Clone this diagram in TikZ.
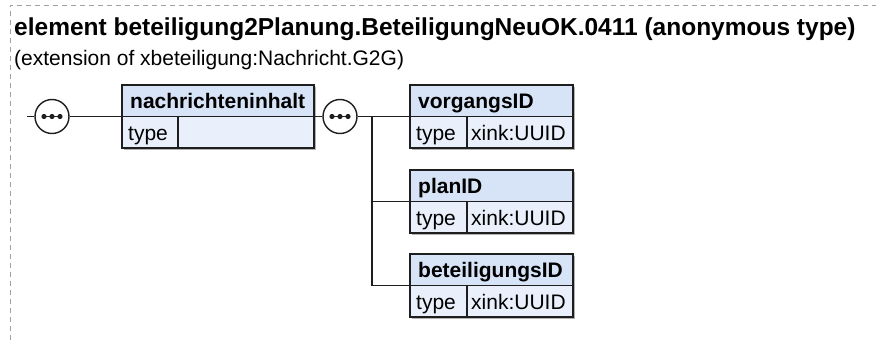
\documentclass[tikz,border=0pt]{standalone}
\usepackage{fontspec}
\setmainfont{Liberation Sans}
\usetikzlibrary{calc}
\definecolor{hdrfill}{RGB}{215,227,247}
\definecolor{rowfill}{RGB}{234,240,251}
\definecolor{edge}{RGB}{30,30,30}
\definecolor{frame}{RGB}{160,160,160}
\tikzset{
  x=1pt, y=-1pt,
  conn/.style={draw=edge, line width=1.4pt},
  seqcirc/.style={circle, draw=edge, line width=1.4pt, fill=white, minimum size=34pt, inner sep=0pt},
  hdrbox/.style={draw=edge, line width=1.4pt, fill=hdrfill},
  rowbox/.style={draw=edge, line width=1.4pt, fill=rowfill},
  shadowbox/.style={fill=black!30, draw=none},
  nametext/.style={anchor=base west, inner sep=0pt, font=\fontsize{21}{24}\selectfont\bfseries},
  celltext/.style={anchor=base west, inner sep=0pt, font=\fontsize{21}{24}\selectfont},
}
\newcommand{\elembox}[7]{%
  \fill[shadowbox] (#2+2,#3+2) rectangle (#4+2,#3+65);
  \draw[hdrbox] (#2,#3) rectangle (#4,#3+31.5);
  \draw[rowbox] (#2,#3+31.5) rectangle (#4,#3+63);
  \draw[edge, line width=1.4pt] (#5,#3+31.5) -- (#5,#3+63);
  \coordinate (#1-w) at (#2,#3+31.5);
  \coordinate (#1-e) at (#4,#3+31.5);
  \node[nametext] (#1-name) at (#2+8,#3+23.5) {#6};
  \node[celltext] (#1-type) at (#2+6,#3+55) {type};
  \node[celltext] (#1-val) at (#5+4,#3+55) {#7};
}
\newcommand{\seqdots}[1]{%
  \draw[edge, line width=1.4pt] ($(#1)+(-8,0)$) -- ($(#1)+(8,0)$);
  \fill[edge] ($(#1)+(-8,0)$) circle (2.6);
  \fill[edge] (#1) circle (2.6);
  \fill[edge] ($(#1)+(8,0)$) circle (2.6);
}
\begin{document}
\begin{tikzpicture}
\useasboundingbox (0,0) rectangle (876,340);
\fill[white] (0,0) rectangle (876,340);
% frame
\draw[frame, line width=1pt, dash pattern=on 5pt off 4pt] (10,340) -- (10,5) -- (876,5);
% title
\node[anchor=base west, inner sep=0pt, font=\fontsize{24.5}{28}\selectfont\bfseries] (title) at (14,35) {element beteiligung2Planung.BeteiligungNeuOK.0411 (anonymous type)};
\node[anchor=base west, inner sep=0pt, font=\fontsize{21}{24}\selectfont] (subtitle) at (14,65) {(extension of xbeteiligung:Nachricht.G2G)};
% boxes
\elembox{nach}{122}{85}{314}{178}{nachrichteninhalt}{}
\elembox{vorg}{410}{85}{573}{467}{vorgangsID}{xink:UUID}
\elembox{plan}{410}{170}{573}{467}{planID}{xink:UUID}
\elembox{bete}{410}{254}{573}{467}{beteiligungsID}{xink:UUID}
% connectors
\coordinate (start) at (27,116.5);
\node[seqcirc] (seq1) at (52,116.5) {};
\node[seqcirc] (seq2) at (340,116.5) {};
\coordinate (fork) at (372,116.5);
\draw[conn] (start) -- (seq1.west);
\draw[conn] (seq1.east) -- (nach-w);
\draw[conn] (nach-e) -- (seq2.west);
\draw[conn] (seq2.east) -- (vorg-w);
\draw[conn] (fork) |- (plan-w);
\draw[conn] (fork) |- (bete-w);
\seqdots{seq1}
\seqdots{seq2}
\end{tikzpicture}
\end{document}
